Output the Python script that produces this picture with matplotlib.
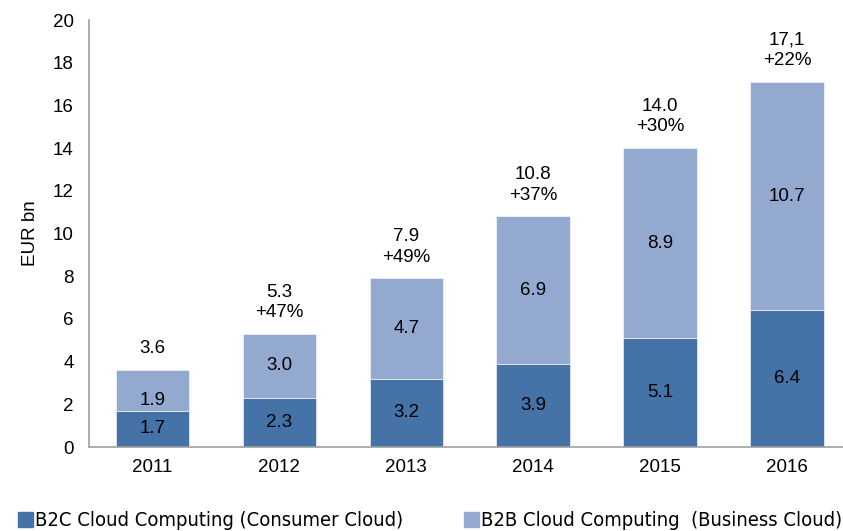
import matplotlib
matplotlib.use("Agg")
import matplotlib.pyplot as plt
from matplotlib.patches import Patch
import numpy as np

years = ["2011", "2012", "2013", "2014", "2015", "2016"]
b2c = [1.7, 2.3, 3.2, 3.9, 5.1, 6.4]
b2b = [1.9, 3.0, 4.7, 6.9, 8.9, 10.7]
totals = ["3.6", "5.3", "7.9", "10.8", "14.0", "17,1"]
growth = ["", "+47%", "+49%", "+37%", "+30%", "+22%"]

dark = "#4572a7"
light = "#94a9d0"

plt.rcParams["font.family"] = ["Liberation Sans", "DejaVu Sans"]
fs = 13.5

fig = plt.figure(figsize=(8.43, 5.31), dpi=100)
ax = fig.add_axes([89 / 843, 1 - 447 / 531, 1 - 89 / 843, (447 - 20) / 531])

x = np.arange(len(years))
w = 0.58
ax.bar(x, b2c, w, color=dark, edgecolor="white", linewidth=0.4)
ax.bar(x, b2b, w, bottom=b2c, color=light, edgecolor="white", linewidth=0.4)

for i in range(len(years)):
    top = b2c[i] + b2b[i]
    ax.text(x[i], b2c[i] / 2, f"{b2c[i]:.1f}", ha="center", va="center", fontsize=fs)
    ypos = min(b2c[i] + b2b[i] / 2, top - 1.4)
    ax.text(x[i], ypos, f"{b2b[i]:.1f}", ha="center", va="center", fontsize=fs)
    lab = totals[i] if not growth[i] else totals[i] + "\n" + growth[i]
    ax.text(x[i], top + 0.6, lab, ha="center", va="bottom", fontsize=fs,
            linespacing=1.25)

ax.set_xlim(-0.5, 5.44)
ax.set_ylim(0, 20)
ax.set_yticks(range(0, 21, 2))
ax.set_xticks(x)
ax.set_xticklabels(years)
ax.tick_params(axis="both", length=0, labelsize=fs)
ax.tick_params(axis="x", pad=9)
ax.tick_params(axis="y", pad=11)
for s in ["top", "right"]:
    ax.spines[s].set_visible(False)
for s in ["left", "bottom"]:
    ax.spines[s].set_color("#a0a0a0")
    ax.spines[s].set_linewidth(1.2)
ax.set_ylabel("EUR bn", fontsize=fs, labelpad=10)

handles = [Patch(color=dark), Patch(color=light)]
labels = ["B2C Cloud Computing (Consumer Cloud)", "B2B Cloud Computing  (Business Cloud)"]
fig.legend(handles, labels, loc="lower left", bbox_to_anchor=(0.0, -0.033), ncol=2,
           frameon=False, handlelength=0.75, handleheight=0.75, handletextpad=0.1,
           columnspacing=3.0,
           prop={"family": ["Liberation Sans Narrow", "DejaVu Sans", "Liberation Sans"],
                 "stretch": "condensed", "size": 14.5})

fig.savefig("out.png", dpi=100)
